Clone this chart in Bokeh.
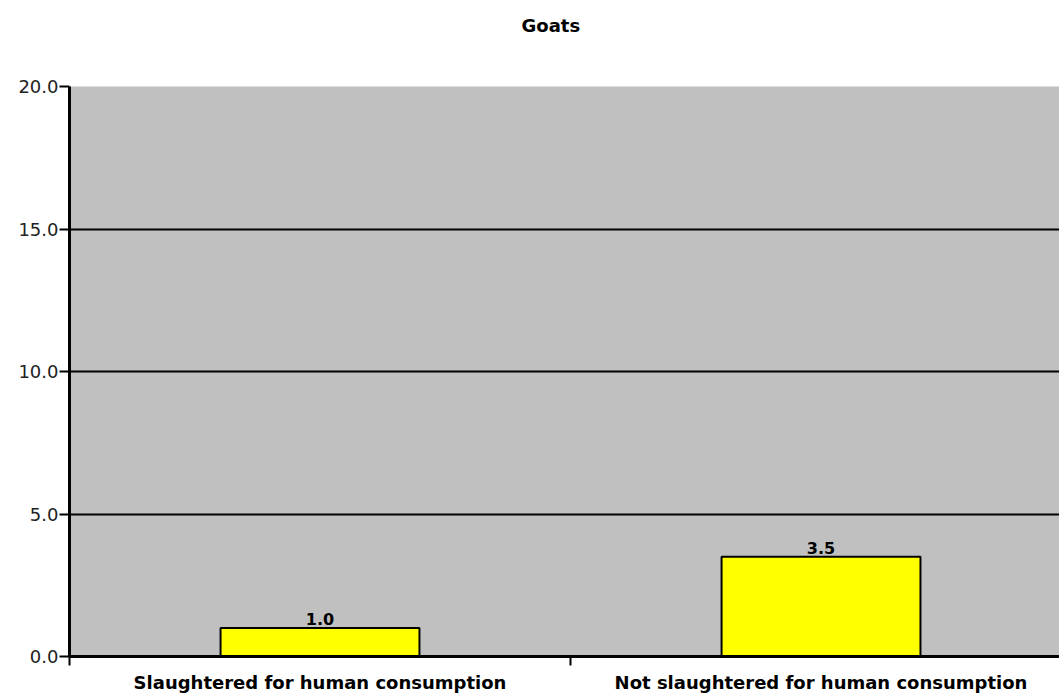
from bokeh.plotting import figure
from bokeh.models import Range1d, FixedTicker, NumeralTickFormatter, ColumnDataSource, LabelSet, Title
from bokeh.core.properties import value
from bokeh.embed import file_html
from bokeh.resources import INLINE

title_text = "Goats"
categories = ["Slaughtered for human consumption", "Not slaughtered for human consumption"]
values = [1.0, 3.5]
y_ticks = [0, 5, 10, 15, 20]

FONT = "DejaVu Sans"

xs = [i + 0.5 for i in range(len(categories))]
src = ColumnDataSource(dict(x=xs, top=values, lab=["%.1f" % v for v in values]))

p = figure(width=1059, height=695, output_backend="svg", toolbar_location=None,
           x_range=Range1d(0, 1.976), y_range=Range1d(0, 20),
           min_border_left=69, min_border_right=0, min_border_top=86, min_border_bottom=37)
p.title = None
# blank spacer panel between the frame and the title
p.add_layout(Title(text=" ", standoff=36, text_font=FONT, text_font_size="10px"), "above")
p.add_layout(Title(text=title_text, align="left", offset=452, standoff=0, vertical_align="top",
                   text_font=FONT, text_font_size="18px", text_font_style="bold",
                   text_color="#000000"), "above")

p.border_fill_color = "#ffffff"
p.outline_line_color = None
p.background_fill_color = "#C0C0C0"

p.vbar(x="x", top="top", bottom=0, width=0.397, source=src,
       fill_color="#FFFF00", line_color="#000000", line_width=2)

labels = LabelSet(x="x", y="top", text="lab", source=src, text_align="center",
                  text_baseline="bottom", y_offset=3, text_font=value(FONT),
                  text_font_size=value("16px"), text_font_style="bold", text_color="#000000")
p.add_layout(labels)

# grid
p.xgrid.visible = False
p.ygrid.ticker = FixedTicker(ticks=y_ticks)
p.ygrid.grid_line_color = "#000000"
p.ygrid.grid_line_width = 2

# y axis
p.yaxis.ticker = FixedTicker(ticks=y_ticks)
p.yaxis.formatter = NumeralTickFormatter(format="0.0")
p.yaxis.axis_line_color = "#000000"
p.yaxis.axis_line_width = 3
p.yaxis.major_tick_line_color = "#000000"
p.yaxis.major_tick_line_width = 2
p.yaxis.major_tick_out = 10
p.yaxis.major_tick_in = 0
p.yaxis.minor_tick_line_color = None
p.yaxis.major_label_text_font = FONT
p.yaxis.major_label_text_font_size = "18px"
p.yaxis.major_label_text_color = "#222222"
p.yaxis.major_label_standoff = 1

# x axis
p.xaxis.ticker = FixedTicker(ticks=xs, minor_ticks=list(range(len(categories) + 1)))
p.xaxis.major_label_overrides = {x: c for x, c in zip(xs, categories)}
p.xaxis.axis_line_color = "#000000"
p.xaxis.axis_line_width = 3
p.xaxis.major_tick_line_color = None
p.xaxis.major_tick_out = 0
p.xaxis.major_tick_in = 0
p.xaxis.minor_tick_line_color = "#000000"
p.xaxis.minor_tick_line_width = 2
p.xaxis.minor_tick_out = 9
p.xaxis.minor_tick_in = 0
p.xaxis.major_label_text_font = FONT
p.xaxis.major_label_text_font_size = "18px"
p.xaxis.major_label_text_font_style = "bold"
p.xaxis.major_label_text_color = "#000000"
p.xaxis.major_label_standoff = 6

open("out.html", "w").write(file_html(p, INLINE))
